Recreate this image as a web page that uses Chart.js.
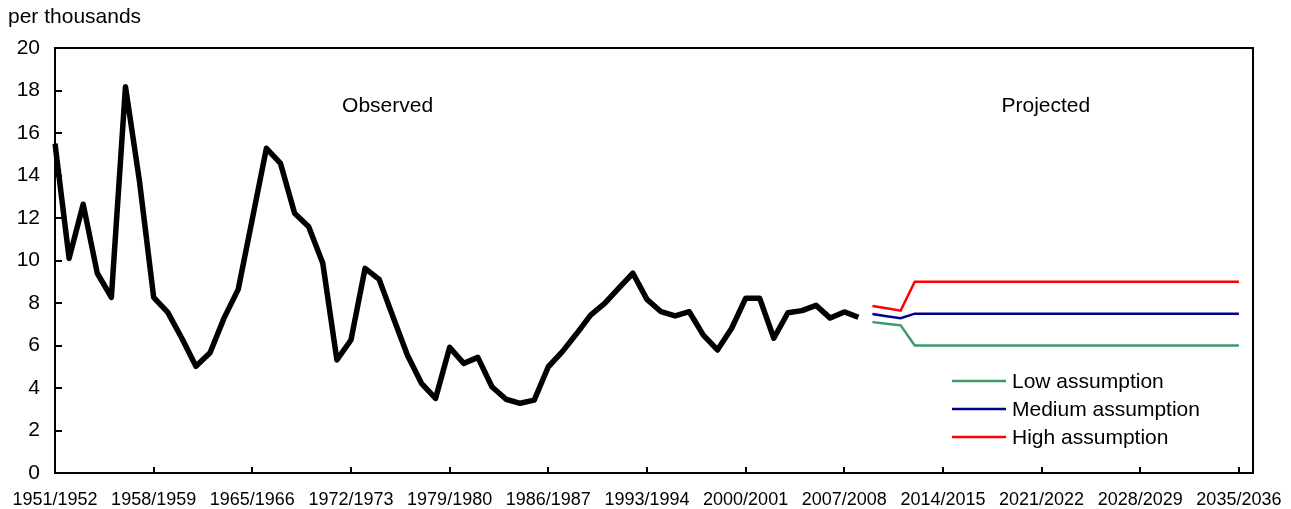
<!DOCTYPE html>
<html>
<head>
<meta charset="utf-8">
<script src="https://cdn.jsdelivr.net/npm/chart.js@4.4.1/dist/chart.umd.min.js"></script>
<style>
  html, body { margin: 0; padding: 0; background: #fff; }
  #wrap { position: relative; width: 1291px; height: 509px; }
</style>
</head>
<body>
<div id="wrap"><canvas id="chart" width="1291" height="509"></canvas></div>
<script>
// ── Data ──────────────────────────────────────────────
const firstYear = 1951;
const yearCount = 86;            // 1951/1952 … 2036/2037 (last slot empty)
const labels = Array.from({ length: yearCount }, (_, i) => `${firstYear + i}/${firstYear + i + 1}`);
const labelEvery = 7;

const yTicks = [0, 2, 4, 6, 8, 10, 12, 14, 16, 18, 20];

// observed, 1951/1952 to 2008/2009
const observed = [
  15.5, 10.1, 12.65, 9.4, 8.27, 18.18, 13.7, 8.27, 7.56, 6.34,
  5.02, 5.66, 7.3, 8.64, 11.95, 15.28, 14.57, 12.22, 11.59, 9.87,
  5.32, 6.26, 9.63, 9.11, 7.32, 5.55, 4.22, 3.51, 5.91, 5.16,
  5.44, 4.06, 3.47, 3.28, 3.43, 5.0, 5.71, 6.55, 7.43, 7.98,
  8.7, 9.4, 8.17, 7.59, 7.39, 7.59, 6.49, 5.79, 6.8, 8.22,
  8.22, 6.34, 7.54, 7.64, 7.89, 7.29, 7.58, 7.33
];

// projections, 2009/2010 to 2035/2036
const projStart = 58;
const lowProj = [
  7.1, 7.02, 6.95, 6.0, 6.0, 6.0, 6.0, 6.0, 6.0, 6.0,
  6.0, 6.0, 6.0, 6.0, 6.0, 6.0, 6.0, 6.0, 6.0, 6.0,
  6.0, 6.0, 6.0, 6.0, 6.0, 6.0, 6.0
];
const mediumProj = [
  7.48, 7.38, 7.28, 7.5, 7.5, 7.5, 7.5, 7.5, 7.5, 7.5,
  7.5, 7.5, 7.5, 7.5, 7.5, 7.5, 7.5, 7.5, 7.5, 7.5,
  7.5, 7.5, 7.5, 7.5, 7.5, 7.5, 7.5
];
const highProj = [
  7.86, 7.75, 7.64, 9.0, 9.0, 9.0, 9.0, 9.0, 9.0, 9.0,
  9.0, 9.0, 9.0, 9.0, 9.0, 9.0, 9.0, 9.0, 9.0, 9.0,
  9.0, 9.0, 9.0, 9.0, 9.0, 9.0, 9.0
];

const legendItems = [
  { text: 'Low assumption',    color: '#3a9a6a' },
  { text: 'Medium assumption', color: '#00008b' },
  { text: 'High assumption',   color: '#ff0000' },
];

const FONT = '"Liberation Sans", Arial, Helvetica, sans-serif';

const pad = arr => Array(projStart).fill(null).concat(arr);

// ── Extra drawing: frame, inward ticks, notes, legend ─
const decorations = {
  id: 'decorations',
  afterDraw(chart) {
    const { ctx, chartArea: a, scales: { x, y } } = chart;
    ctx.save();
    ctx.strokeStyle = '#000';
    ctx.lineWidth = 2;

    // frame (top + right)
    ctx.beginPath();
    ctx.moveTo(a.left, a.top); ctx.lineTo(a.right, a.top); ctx.lineTo(a.right, a.bottom);
    ctx.stroke();

    // inward tick marks
    ctx.beginPath();
    yTicks.forEach(v => {
      if (v === 0) return;
      const py = Math.round(y.getPixelForValue(v));
      ctx.moveTo(a.left, py); ctx.lineTo(a.left + 7, py);
    });
    labels.forEach((_, i) => {
      if (i === 0 || i % labelEvery) return;
      const px = Math.round(x.getPixelForValue(i));
      ctx.moveTo(px, a.bottom); ctx.lineTo(px, a.bottom - 6);
    });
    ctx.stroke();

    // text notes
    ctx.fillStyle = '#000';
    ctx.font = `21px ${FONT}`;
    ctx.textBaseline = 'middle';
    ctx.textAlign = 'left';
    ctx.fillText('per thousands', 8, 17);
    ctx.textAlign = 'center';
    ctx.fillText('Observed', x.getPixelForValue(23.6), 106);
    ctx.fillText('Projected', x.getPixelForValue(70.3), 106);

    // legend
    ctx.textAlign = 'left';
    ctx.lineWidth = 2.5;
    legendItems.forEach((it, k) => {
      const ly = 381 + k * 28;
      ctx.strokeStyle = it.color;
      ctx.beginPath(); ctx.moveTo(952, ly); ctx.lineTo(1006, ly); ctx.stroke();
      ctx.fillText(it.text, 1012, ly + 1);
    });
    ctx.restore();
  }
};

new Chart(document.getElementById('chart'), {
  type: 'line',
  data: {
    labels,
    datasets: [
      { label: 'Observed', data: observed, borderColor: '#000', borderWidth: 5.5, borderJoinStyle: 'round', pointRadius: 0, tension: 0 },
      { label: 'Low assumption', data: pad(lowProj), borderColor: legendItems[0].color, borderWidth: 2.5, pointRadius: 0, tension: 0 },
      { label: 'Medium assumption', data: pad(mediumProj), borderColor: legendItems[1].color, borderWidth: 2.5, pointRadius: 0, tension: 0 },
      { label: 'High assumption', data: pad(highProj), borderColor: legendItems[2].color, borderWidth: 2.5, pointRadius: 0, tension: 0 },
    ]
  },
  options: {
    responsive: false,
    animation: false,
    devicePixelRatio: 1,
    layout: { padding: { top: 48, right: 38, left: 0, bottom: 0 } },
    plugins: { legend: { display: false }, tooltip: { enabled: false } },
    scales: {
      x: {
        type: 'category',
        offset: false,
        grid: { display: false, drawTicks: false },
        border: { display: true, color: '#000', width: 2 },
        ticks: {
          autoSkip: false, maxRotation: 0, minRotation: 0, padding: 16,
          color: '#000', font: { family: FONT, size: 18 },
          callback: (v, i) => (i % labelEvery === 0 && i < yearCount - 1) ? labels[i] : ''
        },
        afterFit: s => { s.height = 36; s.paddingLeft = 0; s.paddingRight = 0; }
      },
      y: {
        min: 0, max: 20,
        afterBuildTicks: s => { s.ticks = yTicks.map(v => ({ value: v })); },
        grid: { display: false, drawTicks: false },
        border: { display: true, color: '#000', width: 2 },
        ticks: { padding: 15, color: '#000', font: { family: FONT, size: 21 } },
        afterFit: s => { s.width = 55; s.paddingTop = 0; s.paddingBottom = 0; }
      }
    }
  },
  plugins: [decorations]
});
</script>
</body>
</html>
